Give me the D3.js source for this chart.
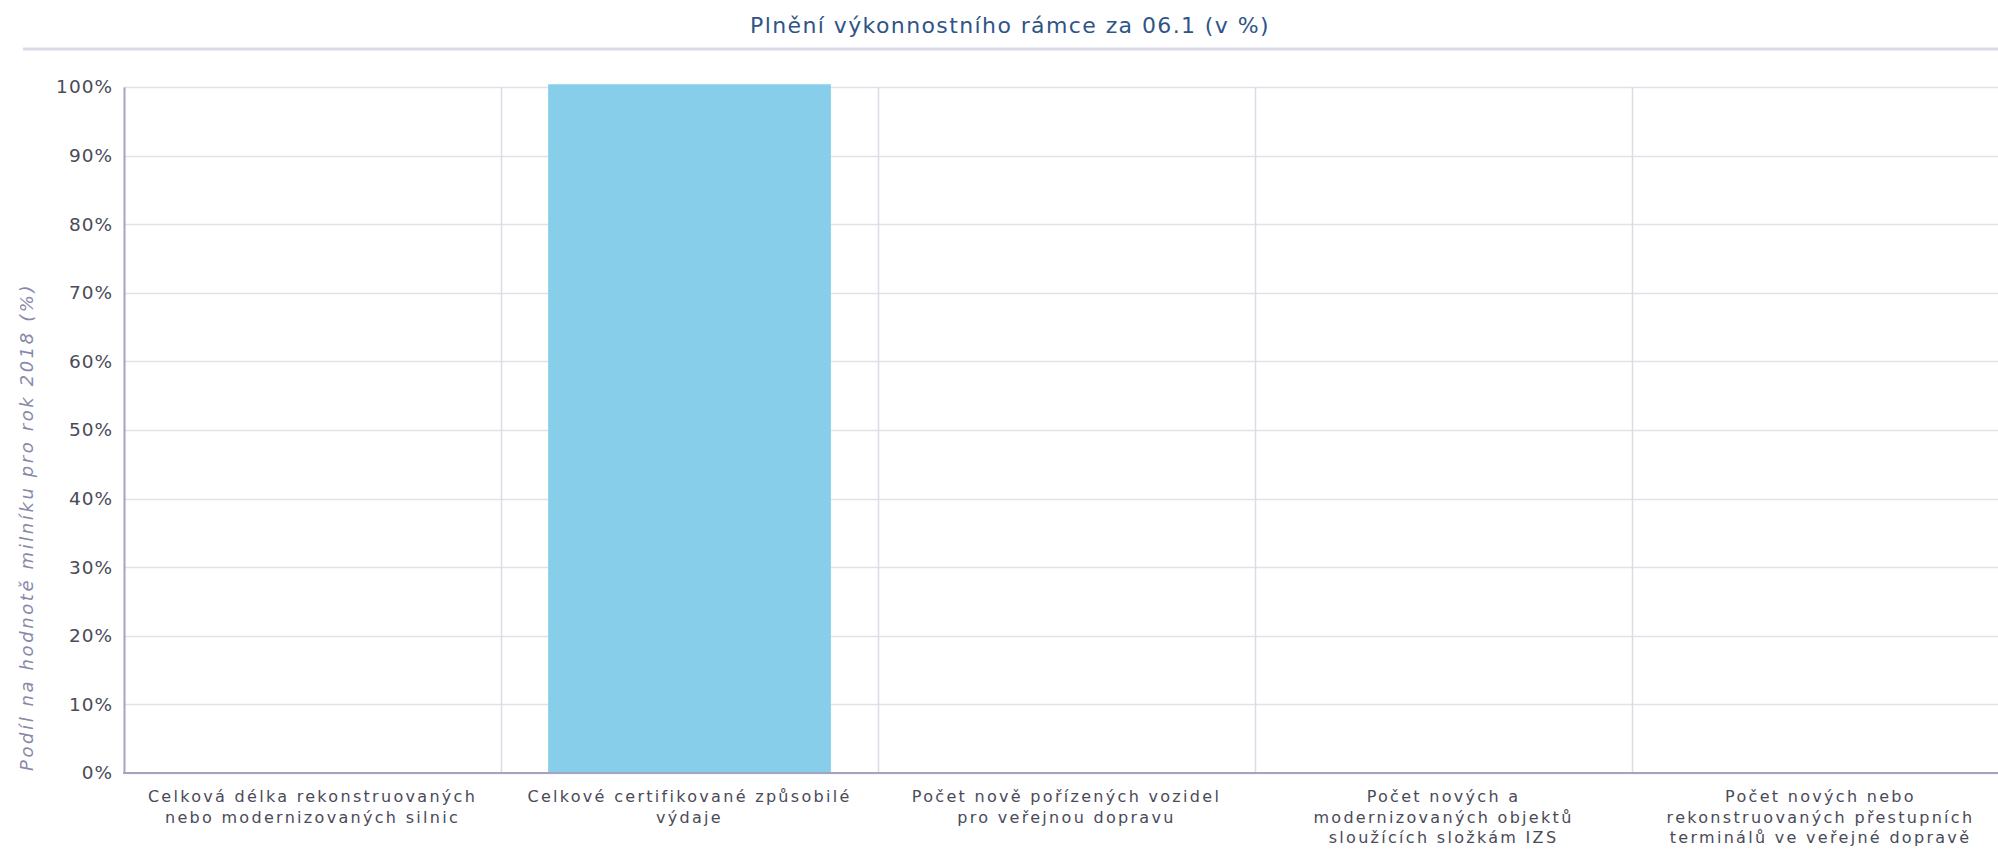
<!DOCTYPE html>
<html>
<head>
<meta charset="utf-8">
<script src="https://cdn.jsdelivr.net/npm/d3@7"></script>
<style>
  body { margin: 0; background: #fff; }
  svg { display: block; font-family: "DejaVu Sans", Verdana, sans-serif; }
</style>
</head>
<body>
<div id="chart"></div>
<script>
// categories (line breaks as in the original labels)
var categories = [
    "Celková délka rekonstruovaných\nnebo modernizovaných silnic",
    "Celkové certifikované způsobilé\nvýdaje",
    "Počet nově pořízených vozidel\npro veřejnou dopravu",
    "Počet nových a\nmodernizovaných objektů\nsloužících složkám IZS",
    "Počet nových nebo\nrekonstruovaných přestupních\nterminálů ve veřejné dopravě"
];
var values = [0, 100.4, 0, 0, 0];
var yTicks = [0, 10, 20, 30, 40, 50, 60, 70, 80, 90, 100];

var title = "Plnění výkonnostního rámce za 06.1 (v %)";
var yTitle = "Podíl na hodnotě milníku pro rok 2018 (%)";

var width = 1998,
    height = 850;

// plot box (chart is wider than the window, right part is cut off)
var margin = {left: 124, top: 87, bottom: 773, right: 2009};

var svg = d3.select("#chart").append("svg")
    .attr("width", width)
    .attr("height", height);

var x = d3.scaleBand()
    .domain(d3.range(categories.length))
    .range([margin.left, margin.right])
    .paddingInner(0.25)
    .paddingOuter(0.125);

var y = d3.scaleLinear()
    .domain([0, 100])
    .range([margin.bottom, margin.top]);

//title + line under it
svg.append("text")
    .attr("x", 1010)
    .attr("y", 33)
    .attr("text-anchor", "middle")
    .style("font-size", "22px")
    .style("letter-spacing", "1.4px")
    .style("fill", "#2f5588")
    .text(title);

svg.append("line")
    .attr("x1", 23).attr("x2", width)
    .attr("y1", 49).attr("y2", 49)
    .style("stroke", "#d9d9e8")
    .style("stroke-width", 3);

// horizontal grid
svg.append("g")
    .selectAll("line")
    .data(yTicks)
    .enter().append("line")
    .attr("x1", margin.left).attr("x2", margin.right)
    .attr("y1", function (d) { return Math.round(y(d)) + 0.5; })
    .attr("y2", function (d) { return Math.round(y(d)) + 0.5; })
    .style("stroke", "#e1e1ea")
    .style("stroke-width", 1.5);

// vertical grid between categories
var step = x.step();
svg.append("g")
    .selectAll("line")
    .data(d3.range(1, categories.length))
    .enter().append("line")
    .attr("x1", function (i) { return Math.round(margin.left + i * step) + 0.5; })
    .attr("x2", function (i) { return Math.round(margin.left + i * step) + 0.5; })
    .attr("y1", margin.top).attr("y2", margin.bottom)
    .style("stroke", "#dcdce8")
    .style("stroke-width", 1.5);

// bars
svg.append("g")
    .selectAll("rect")
    .data(values)
    .enter().append("rect")
    .attr("x", function (d, i) { return x(i); })
    .attr("width", x.bandwidth())
    .attr("y", function (d) { return y(d); })
    .attr("height", function (d) { return y(0) - y(d); })
    .style("fill", "#87ceeb");

// y axis
var yAxis = svg.append("g")
    .attr("transform", "translate(" + margin.left + ",0)")
    .call(d3.axisLeft(y).tickValues(yTicks).tickSize(0).tickPadding(11)
        .tickFormat(function (d) { return d + "%"; }));
yAxis.select(".domain").style("stroke", "#a4a4c2").style("stroke-width", 2);
yAxis.selectAll("text")
    .style("font-size", "18.5px")
    .style("letter-spacing", "1px")
    .style("font-family", "DejaVu Sans, sans-serif")
    .style("fill", "#4a4a58");

// x axis line
svg.append("line")
    .attr("x1", margin.left - 1).attr("x2", margin.right)
    .attr("y1", margin.bottom).attr("y2", margin.bottom)
    .style("stroke", "#a4a4c2")
    .style("stroke-width", 2);

// category labels
var labels = svg.append("g")
    .selectAll("text")
    .data(categories)
    .enter().append("text")
    .attr("text-anchor", "middle")
    .attr("transform", function (d, i) {
        return "translate(" + (x(i) + x.bandwidth() / 2) + ",802)";
    })
    .style("font-size", "16px")
    .style("letter-spacing", "2.3px")
    .style("fill", "#4a4a58");

labels.selectAll("tspan")
    .data(function (d) { return d.split("\n"); })
    .enter().append("tspan")
    .attr("x", 0)
    .attr("dy", function (d, i) { return i ? 20.5 : 0; })
    .text(function (d) { return d; });

// y axis title
svg.append("text")
    .attr("transform", "translate(33,771) rotate(-90)")
    .attr("text-anchor", "start")
    .style("font-size", "18px")
    .style("font-style", "italic")
    .style("letter-spacing", "2.6px")
    .style("fill", "#8888aa")
    .text(yTitle);
</script>
</body>
</html>
